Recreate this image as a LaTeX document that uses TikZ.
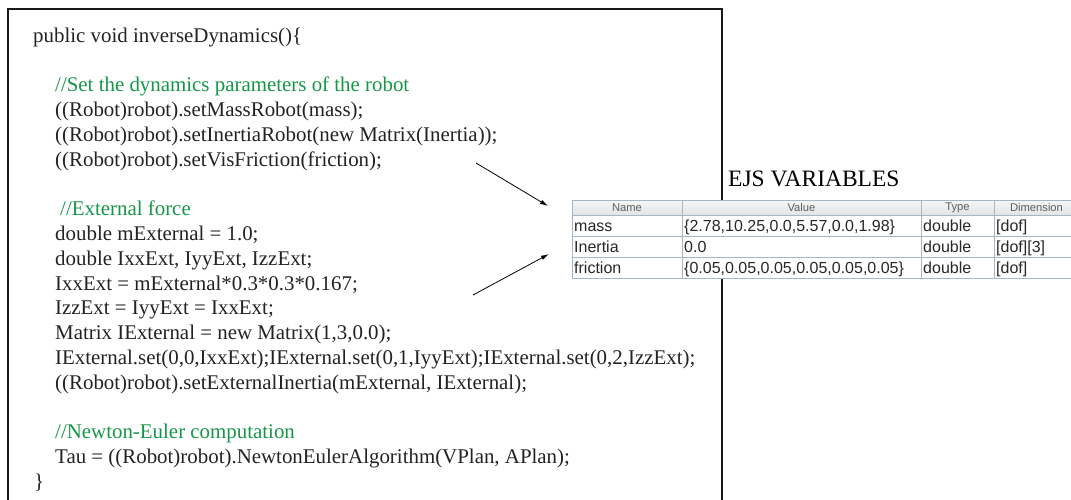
\documentclass[tikz,border=0pt]{standalone}
\usepackage{fontspec}
\setmainfont{Liberation Serif}
\newfontfamily\tabfont{Liberation Sans}
\usetikzlibrary{arrows.meta}
\definecolor{codegreen}{RGB}{22,150,72}
\definecolor{codetext}{RGB}{35,35,35}
\definecolor{gridblue}{RGB}{165,182,200}
\definecolor{headtop}{RGB}{246,246,246}
\definecolor{headbot}{RGB}{228,228,228}
\definecolor{headtext}{RGB}{95,95,95}
\definecolor{celltext}{RGB}{40,40,40}
\begin{document}
\begin{tikzpicture}[x=1pt,y=-1pt,
  codeline/.style={anchor=base west, inner sep=0pt, text=codetext, font=\fontsize{20.9}{24}\selectfont},
  cmtline/.style={codeline, text=codegreen},
  headcell/.style={anchor=center, inner sep=0pt, text=headtext, font=\tabfont\fontsize{11.2}{13}\selectfont},
  datacell/.style={anchor=base west, inner sep=0pt, text=celltext, font=\tabfont\fontsize{16}{18}\selectfont},
  gridline/.style={draw=gridblue, line width=1pt},
  pointer/.style={-{Latex[length=8pt,width=4.5pt]}, line width=0.8pt, draw=black}]
\useasboundingbox (0,0) rectangle (1071,499);
\clip (0,0) rectangle (1071,499);
\fill[white] (0,0) rectangle (1071,499);

% code box
\draw[line width=2pt, draw=black!90] (8,9) rectangle (722,512);

% code lines
\node[codeline] (l1)  at (33,42)    {public void inverseDynamics()\{};
\node[cmtline]  (l3)  at (55,91.6)  {//Set the dynamics parameters of the robot};
\node[codeline] (l4)  at (55,116.4) {((Robot)robot).setMassRobot(mass);};
\node[codeline] (l5)  at (55,141.2) {((Robot)robot).setInertiaRobot(new Matrix(Inertia));};
\node[codeline] (l6)  at (55,166)   {((Robot)robot).setVisFriction(friction);};
\node[cmtline]  (l8)  at (60,215.6) {//External force};
\node[codeline] (l9)  at (55,240.4) {double mExternal = 1.0;};
\node[codeline] (l10) at (55,265.2) {double IxxExt, IyyExt, IzzExt;};
\node[codeline] (l11) at (55,290)   {IxxExt = mExternal*0.3*0.3*0.167;};
\node[codeline] (l12) at (55,314.8) {IzzExt = IyyExt = IxxExt;};
\node[codeline] (l13) at (55,339.6) {Matrix IExternal = new Matrix(1,3,0.0);};
\node[codeline] (l14) at (55,364.4) {IExternal.set(0,0,IxxExt);IExternal.set(0,1,IyyExt);IExternal.set(0,2,IzzExt);};
\node[codeline] (l15) at (55,389.2) {((Robot)robot).setExternalInertia(mExternal, IExternal);};
\node[cmtline]  (l17) at (55,438.8) {//Newton-Euler computation};
\node[codeline] (l18) at (55,463.6) {Tau = ((Robot)robot).NewtonEulerAlgorithm(VPlan, APlan);};
\node[codeline] (l19) at (34,488.4) {\}};

% title
\node[anchor=base west, inner sep=0pt, font=\fontsize{23.5}{26}\selectfont] (title) at (728,186) {EJS VARIABLES};

% table
\fill[white] (572,200) rectangle (1075,278);
\shade[top color=headtop, bottom color=headbot] (572,200) rectangle (1075,215);
\foreach \yy in {200,215,236,257,278} \draw[gridline] (572,\yy) -- (1075,\yy);
\foreach \xx in {572,682,921,994} \draw[gridline] (\xx,200) -- (\xx,278);

\node[headcell] (hname) at (627,207.8)    {Name};
\node[headcell] (hval)  at (801.5,207.8)  {Value};
\node[headcell] (htype) at (957.5,207.8)  {Type};
\node[headcell] (hdim)  at (1036.5,207.8) {Dimension};

\node[datacell] (m1) at (574,231.5) {mass};
\node[datacell] (m2) at (684,231.5) {\{2.78,10.25,0.0,5.57,0.0,1.98\}};
\node[datacell] (m3) at (923,231.5) {double};
\node[datacell] (m4) at (996,231.5) {[dof]};

\node[datacell] (i1) at (574,252.5) {Inertia};
\node[datacell] (i2) at (684,252.5) {0.0};
\node[datacell] (i3) at (923,252.5) {double};
\node[datacell] (i4) at (996,252.5) {[dof][3]};

\node[datacell] (f1) at (574,273.5) {friction};
\node[datacell] (f2) at (684,273.5) {\{0.05,0.05,0.05,0.05,0.05,0.05\}};
\node[datacell] (f3) at (923,273.5) {double};
\node[datacell] (f4) at (996,273.5) {[dof]};

% arrows
\coordinate (a1s) at (476,163);
\coordinate (a1e) at (548,206);
\coordinate (a2s) at (473,295);
\coordinate (a2e) at (549,254);
\draw[pointer] (a1s) -- (a1e);
\draw[pointer] (a2s) -- (a2e);
\end{tikzpicture}
\end{document}
